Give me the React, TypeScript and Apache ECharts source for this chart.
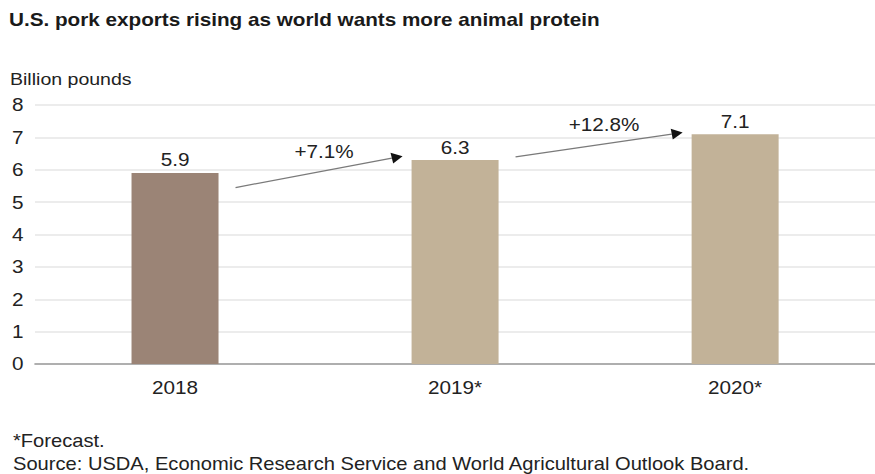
import React, { useEffect, useRef } from "react";
import * as echarts from "echarts";

// Exports by year, billion pounds
const years = ["2018", "2019*", "2020*"];
const exportsBn = [5.9, 6.3, 7.1];
const yTicks = { min: 0, max: 8, interval: 1 };

// Year-over-year change annotations between neighbouring bars
const changeLabels = ["+7.1%", "+12.8%"];
// Arrow start / end heights in axis units
const arrowFrom = [5.45, 6.4];
const arrowTo = [6.42, 7.15];

const titleText = "U.S. pork exports rising as world wants more animal protein";
const unitText = "Billion pounds";
const noteText = "*Forecast.";
const sourceText =
  "Source: USDA, Economic Research Service and World Agricultural Outlook Board.";

// The graphic is laid out on a narrower canvas and widened by STRETCH,
// which gives the text its wide, flat proportions.
const STRETCH = 1.15;
const PAGE_W = 875;
const PAGE_H = 474;
const CHART_W = PAGE_W / STRETCH;
const sx = (pagePx: number) => pagePx / STRETCH;

const FONT = "'Liberation Sans', Arial, Helvetica, sans-serif";
const INK = "#222222";
const BAR_W = sx(87);
const barColors = ["#9b8476", "#c2b298", "#c2b298"];

export default function App() {
  const ref = useRef<HTMLDivElement>(null);

  useEffect(() => {
    if (!ref.current) return;
    const chart = echarts.init(ref.current, null, { renderer: "svg" });

    chart.setOption({
      animation: false,
      backgroundColor: "#ffffff",
      textStyle: { fontFamily: FONT },
      grid: { left: sx(35), top: 105, width: sx(847), height: 259, containLabel: false },
      xAxis: {
        type: "category",
        data: years,
        axisLine: { show: true, lineStyle: { color: "#9a9a9a", width: 1.5 } },
        axisTick: { show: false },
        axisLabel: { color: INK, fontSize: 18, margin: 14, fontFamily: FONT },
      },
      yAxis: {
        type: "value",
        min: yTicks.min,
        max: yTicks.max,
        interval: yTicks.interval,
        axisLine: { show: false },
        axisTick: { show: false },
        axisLabel: { color: INK, fontSize: 18, margin: 10, fontFamily: FONT },
        splitLine: { lineStyle: { color: "#e6e6e6", width: 1.5 } },
      },
      series: [
        {
          type: "bar",
          barWidth: BAR_W,
          data: exportsBn.map((v, i) => ({ value: v, itemStyle: { color: barColors[i] } })),
          label: {
            show: true,
            position: "top",
            distance: 4,
            color: INK,
            fontSize: 18,
            fontFamily: FONT,
            formatter: (p: any) => p.value.toFixed(1),
          },
        },
      ],
    });

    // Arrows and percentage labels between bars, placed through the axes
    const px = (i: number, v: number) =>
      chart.convertToPixel({ xAxisIndex: 0, yAxisIndex: 0 }, [i, v]) as number[];
    const arrows: any[] = [];
    changeLabels.forEach((txt, i) => {
      const a = px(i, arrowFrom[i]);
      const b = px(i + 1, arrowTo[i]);
      const x0 = a[0] + BAR_W / 2 + sx(17);
      const y0 = a[1];
      const x1 = b[0] - BAR_W / 2 - sx(9);
      const y1 = b[1];
      const dx = x1 - x0;
      const dy = y1 - y0;
      const len = Math.sqrt(dx * dx + dy * dy);
      const ux = dx / len;
      const uy = dy / len;
      const head = sx(11);
      const bx = x1 - ux * head;
      const by = y1 - uy * head;
      arrows.push({
        type: "line",
        shape: { x1: x0, y1: y0, x2: bx, y2: by },
        style: { stroke: "#7a7a7a", lineWidth: 1.3 },
      });
      arrows.push({
        type: "polygon",
        shape: {
          points: [
            [x1, y1],
            [bx - uy * 5.5, by + ux * 5.5],
            [bx + uy * 5.5, by - ux * 5.5],
          ],
        },
        style: { fill: "#111111" },
      });
      arrows.push({
        type: "text",
        x: (x0 + x1) / 2 + sx(5),
        y: (y0 + y1) / 2 - 20,
        style: {
          text: txt,
          fill: INK,
          font: `18px ${FONT}`,
          align: "center",
          verticalAlign: "middle",
        },
      });
    });

    chart.setOption({
      graphic: [
        {
          type: "text",
          x: sx(9),
          y: 20,
          style: { text: titleText, fill: "#1a1a1a", font: `bold 18px ${FONT}`, verticalAlign: "middle" },
        },
        {
          type: "text",
          x: sx(10),
          y: 79,
          style: { text: unitText, fill: INK, font: `17px ${FONT}`, verticalAlign: "middle" },
        },
        {
          type: "text",
          x: sx(13),
          y: 441,
          style: { text: noteText, fill: INK, font: `17.5px ${FONT}`, verticalAlign: "middle" },
        },
        {
          type: "text",
          x: sx(13),
          y: 464,
          style: { text: sourceText, fill: INK, font: `17.5px ${FONT}`, verticalAlign: "middle" },
        },
        ...arrows,
      ],
    });

    return () => chart.dispose();
  }, []);

  return (
    <div style={{ width: PAGE_W, height: PAGE_H, position: "absolute", left: 0, top: 0, overflow: "hidden", background: "#fff" }}>
      <div
        ref={ref}
        style={{
          width: CHART_W,
          height: PAGE_H,
          transform: `scaleX(${STRETCH})`,
          transformOrigin: "0 0",
        }}
      />
    </div>
  );
}
